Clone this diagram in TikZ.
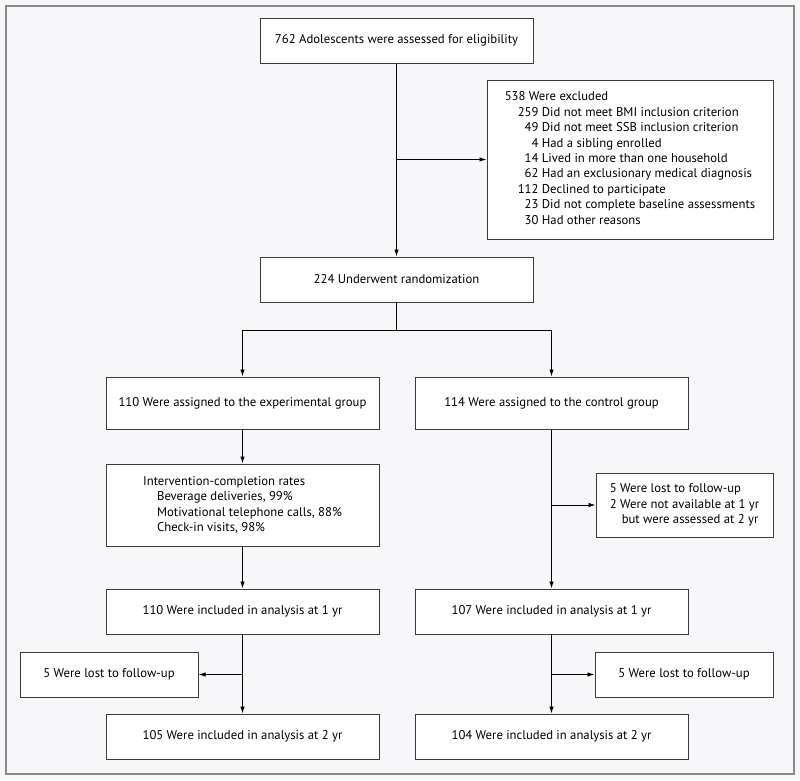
\documentclass[tikz,border=0pt]{standalone}
\usepackage{fontspec}
\setmainfont{PT Sans}
\usetikzlibrary{arrows.meta}
\definecolor{bgc}{HTML}{F7F7F9}
\definecolor{framec}{HTML}{8A8A8A}
\definecolor{boxc}{HTML}{3C3C3C}
\begin{document}
\begin{tikzpicture}[x=1pt,y=-1pt,
  box/.style={draw=boxc,line width=1pt,fill=white,inner sep=0pt,align=left,
    font=\fontsize{12.7}{15.2}\selectfont},
  arr/.style={-{Latex[length=7pt,width=4.5pt]},line width=0.9pt},
  ln/.style={line width=0.9pt}]
\useasboundingbox (0,0) rectangle (800,780);
\fill[bgc] (0,0) rectangle (800,780);
\draw[framec,line width=1.3pt] (6,6) rectangle (794,774);

\node[box,minimum width=273pt,minimum height=45pt] (elig) at (396.5,40.5) {762 Adolescents were assessed for eligibility};
\node[box,minimum width=286pt,minimum height=159pt,font=\fontsize{12.7}{15.4}\selectfont] (excl) at (630,159.5) {%
\begin{tabular}{@{\hspace{13pt}}r@{\ }l@{}}
\multicolumn{2}{@{}l@{}}{538 Were excluded}\\
259 & Did not meet BMI inclusion criterion\\
49 & Did not meet SSB inclusion criterion\\
4 & Had a sibling enrolled\\
14 & Lived in more than one household\\
62 & Had an exclusionary medical diagnosis\\
112 & Declined to participate\\
23 & Did not complete baseline assessments\\
30 & Had other reasons
\end{tabular}};
\node[box,minimum width=273pt,minimum height=45pt] (rand) at (396.5,279.5) {224 Underwent randomization};
\node[box,minimum width=273pt,minimum height=52pt] (exp) at (242.5,403) {110 Were assigned to the experimental group};
\node[box,minimum width=273pt,minimum height=52pt] (ctrl) at (551.5,403) {114 Were assigned to the control group};
\node[box,minimum width=273pt,minimum height=82pt] (interv) at (242.5,505) {Intervention-completion rates\\
\hspace{14pt}Beverage deliveries, 99\%\\
\hspace{14pt}Motivational telephone calls, 88\%\\
\hspace{14pt}Check-in visits, 98\%};
\node[box,minimum width=177pt,minimum height=64pt] (ctrllost) at (684.5,505) {5 Were lost to follow-up\\
2 Were not available at 1 yr\\
\hspace{12pt}but were assessed at 2 yr};
\node[box,minimum width=273pt,minimum height=45pt] (exp1) at (242.5,611.5) {110 Were included in analysis at 1 yr};
\node[box,minimum width=273pt,minimum height=45pt] (ctrl1) at (551.5,611.5) {107 Were included in analysis at 1 yr};
\node[box,minimum width=178pt,minimum height=45pt] (explost) at (109,674.5) {5 Were lost to follow-up};
\node[box,minimum width=178pt,minimum height=45pt] (ctrllost2) at (684,674.5) {5 Were lost to follow-up};
\node[box,minimum width=273pt,minimum height=45pt] (exp2) at (242.5,736.5) {105 Were included in analysis at 2 yr};
\node[box,minimum width=273pt,minimum height=45pt] (ctrl2) at (551.5,736.5) {104 Were included in analysis at 2 yr};

% connectors
\draw[arr] (elig.south) -- (rand.north);
\coordinate (b1) at (elig.south |- excl.west);
\draw[arr] (b1) -- (excl.west);
\draw[ln] (rand.south) -- ++(0,28) coordinate (split);
\draw[arr] (split) -| (exp.north);
\draw[arr] (split) -| (ctrl.north);
\draw[arr] (exp.south) -- (interv.north);
\draw[arr] (interv.south) -- (exp1.north);
\draw[arr] (ctrl.south) -- (ctrl1.north);
\coordinate (b2) at (ctrl.south |- ctrllost.west);
\draw[arr] (b2) -- (ctrllost.west);
\draw[arr] (exp1.south) -- (exp2.north);
\coordinate (b3) at (exp1.south |- explost.east);
\draw[arr] (b3) -- (explost.east);
\draw[arr] (ctrl1.south) -- (ctrl2.north);
\coordinate (b4) at (ctrl1.south |- ctrllost2.west);
\draw[arr] (b4) -- (ctrllost2.west);
\end{tikzpicture}
\end{document}
